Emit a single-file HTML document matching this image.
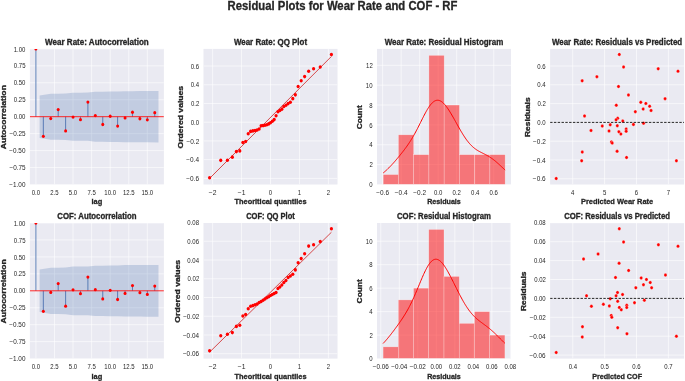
<!DOCTYPE html>
<html><head><meta charset="utf-8"><title>Residual Plots</title>
<style>html,body{margin:0;padding:0;background:#fff;}svg{display:block;filter:blur(0.3px);}</style>
</head><body>
<svg width="685" height="381" viewBox="0 0 685 381" font-family='"Liberation Sans", sans-serif'>
<rect width="685" height="381" fill="#ffffff"/>
<text x="342.50" y="9.55" font-size="11.96" font-weight="bold" text-anchor="middle" textLength="229.87" lengthAdjust="spacingAndGlyphs" fill="#262626" stroke="#262626" stroke-width="0.3">Residual Plots for Wear Rate and COF - RF</text>
<rect x="29.90" y="48.90" width="134.00" height="135.60" fill="#eaeaf2"/>
<clipPath id="c00"><rect x="29.90" y="48.90" width="134.00" height="135.60"/></clipPath>
<g clip-path="url(#c00)">
<line x1="35.90" y1="48.90" x2="35.90" y2="184.50" stroke="#ffffff" stroke-width="0.6"/>
<line x1="54.47" y1="48.90" x2="54.47" y2="184.50" stroke="#ffffff" stroke-width="0.6"/>
<line x1="73.04" y1="48.90" x2="73.04" y2="184.50" stroke="#ffffff" stroke-width="0.6"/>
<line x1="91.62" y1="48.90" x2="91.62" y2="184.50" stroke="#ffffff" stroke-width="0.6"/>
<line x1="110.19" y1="48.90" x2="110.19" y2="184.50" stroke="#ffffff" stroke-width="0.6"/>
<line x1="128.76" y1="48.90" x2="128.76" y2="184.50" stroke="#ffffff" stroke-width="0.6"/>
<line x1="147.33" y1="48.90" x2="147.33" y2="184.50" stroke="#ffffff" stroke-width="0.6"/>
<line x1="29.90" y1="184.50" x2="163.90" y2="184.50" stroke="#ffffff" stroke-width="0.6"/>
<line x1="29.90" y1="167.55" x2="163.90" y2="167.55" stroke="#ffffff" stroke-width="0.6"/>
<line x1="29.90" y1="150.60" x2="163.90" y2="150.60" stroke="#ffffff" stroke-width="0.6"/>
<line x1="29.90" y1="133.65" x2="163.90" y2="133.65" stroke="#ffffff" stroke-width="0.6"/>
<line x1="29.90" y1="116.70" x2="163.90" y2="116.70" stroke="#ffffff" stroke-width="0.6"/>
<line x1="29.90" y1="99.75" x2="163.90" y2="99.75" stroke="#ffffff" stroke-width="0.6"/>
<line x1="29.90" y1="82.80" x2="163.90" y2="82.80" stroke="#ffffff" stroke-width="0.6"/>
<line x1="29.90" y1="65.85" x2="163.90" y2="65.85" stroke="#ffffff" stroke-width="0.6"/>
<line x1="29.90" y1="48.90" x2="163.90" y2="48.90" stroke="#ffffff" stroke-width="0.6"/>
<path d="M39.61,95.42 L50.76,93.71 L58.19,93.70 L65.61,93.48 L73.04,92.64 L80.47,92.64 L87.90,92.60 L95.33,91.75 L102.76,91.74 L110.19,91.50 L117.62,91.50 L125.05,91.16 L132.48,91.15 L139.90,91.08 L147.33,91.06 L158.48,91.02 L158.48,142.38 L147.33,142.34 L139.90,142.32 L132.48,142.25 L125.05,142.24 L117.62,141.90 L110.19,141.90 L102.76,141.66 L95.33,141.65 L87.90,140.80 L80.47,140.76 L73.04,140.76 L65.61,139.92 L58.19,139.70 L50.76,139.69 L39.61,137.98 Z" fill="#4c72b0" fill-opacity="0.25"/>
<line x1="35.90" y1="116.70" x2="35.90" y2="48.90" stroke="#4c72b0" stroke-width="0.9"/>
<line x1="43.33" y1="116.70" x2="43.33" y2="136.29" stroke="#4c72b0" stroke-width="0.9"/>
<line x1="50.76" y1="116.70" x2="50.76" y2="118.53" stroke="#4c72b0" stroke-width="0.9"/>
<line x1="58.19" y1="116.70" x2="58.19" y2="109.58" stroke="#4c72b0" stroke-width="0.9"/>
<line x1="65.61" y1="116.70" x2="65.61" y2="130.94" stroke="#4c72b0" stroke-width="0.9"/>
<line x1="73.04" y1="116.70" x2="73.04" y2="117.11" stroke="#4c72b0" stroke-width="0.9"/>
<line x1="80.47" y1="116.70" x2="80.47" y2="119.68" stroke="#4c72b0" stroke-width="0.9"/>
<line x1="87.90" y1="116.70" x2="87.90" y2="102.12" stroke="#4c72b0" stroke-width="0.9"/>
<line x1="95.33" y1="116.70" x2="95.33" y2="115.62" stroke="#4c72b0" stroke-width="0.9"/>
<line x1="102.76" y1="116.70" x2="102.76" y2="124.50" stroke="#4c72b0" stroke-width="0.9"/>
<line x1="110.19" y1="116.70" x2="110.19" y2="116.23" stroke="#4c72b0" stroke-width="0.9"/>
<line x1="117.62" y1="116.70" x2="117.62" y2="126.12" stroke="#4c72b0" stroke-width="0.9"/>
<line x1="125.05" y1="116.70" x2="125.05" y2="117.92" stroke="#4c72b0" stroke-width="0.9"/>
<line x1="132.48" y1="116.70" x2="132.48" y2="112.23" stroke="#4c72b0" stroke-width="0.9"/>
<line x1="139.90" y1="116.70" x2="139.90" y2="118.73" stroke="#4c72b0" stroke-width="0.9"/>
<line x1="147.33" y1="116.70" x2="147.33" y2="119.82" stroke="#4c72b0" stroke-width="0.9"/>
<line x1="154.76" y1="116.70" x2="154.76" y2="112.70" stroke="#4c72b0" stroke-width="0.9"/>
<line x1="29.90" y1="116.70" x2="163.90" y2="116.70" stroke="#ff0000" stroke-width="0.85"/>
<ellipse cx="35.90" cy="48.90" rx="1.5" ry="1.65" fill="#ff0000"/>
<ellipse cx="43.33" cy="136.29" rx="1.5" ry="1.65" fill="#ff0000"/>
<ellipse cx="50.76" cy="118.53" rx="1.5" ry="1.65" fill="#ff0000"/>
<ellipse cx="58.19" cy="109.58" rx="1.5" ry="1.65" fill="#ff0000"/>
<ellipse cx="65.61" cy="130.94" rx="1.5" ry="1.65" fill="#ff0000"/>
<ellipse cx="73.04" cy="117.11" rx="1.5" ry="1.65" fill="#ff0000"/>
<ellipse cx="80.47" cy="119.68" rx="1.5" ry="1.65" fill="#ff0000"/>
<ellipse cx="87.90" cy="102.12" rx="1.5" ry="1.65" fill="#ff0000"/>
<ellipse cx="95.33" cy="115.62" rx="1.5" ry="1.65" fill="#ff0000"/>
<ellipse cx="102.76" cy="124.50" rx="1.5" ry="1.65" fill="#ff0000"/>
<ellipse cx="110.19" cy="116.23" rx="1.5" ry="1.65" fill="#ff0000"/>
<ellipse cx="117.62" cy="126.12" rx="1.5" ry="1.65" fill="#ff0000"/>
<ellipse cx="125.05" cy="117.92" rx="1.5" ry="1.65" fill="#ff0000"/>
<ellipse cx="132.48" cy="112.23" rx="1.5" ry="1.65" fill="#ff0000"/>
<ellipse cx="139.90" cy="118.73" rx="1.5" ry="1.65" fill="#ff0000"/>
<ellipse cx="147.33" cy="119.82" rx="1.5" ry="1.65" fill="#ff0000"/>
<ellipse cx="154.76" cy="112.70" rx="1.5" ry="1.65" fill="#ff0000"/>
</g>
<text x="35.90" y="195.10" font-size="6.45" font-weight="normal" text-anchor="middle" textLength="8.35" lengthAdjust="spacingAndGlyphs" fill="#262626">0.0</text>
<text x="54.47" y="195.10" font-size="6.45" font-weight="normal" text-anchor="middle" textLength="8.35" lengthAdjust="spacingAndGlyphs" fill="#262626">2.5</text>
<text x="73.04" y="195.10" font-size="6.45" font-weight="normal" text-anchor="middle" textLength="8.35" lengthAdjust="spacingAndGlyphs" fill="#262626">5.0</text>
<text x="91.62" y="195.10" font-size="6.45" font-weight="normal" text-anchor="middle" textLength="8.35" lengthAdjust="spacingAndGlyphs" fill="#262626">7.5</text>
<text x="110.19" y="195.10" font-size="6.45" font-weight="normal" text-anchor="middle" textLength="11.69" lengthAdjust="spacingAndGlyphs" fill="#262626">10.0</text>
<text x="128.76" y="195.10" font-size="6.45" font-weight="normal" text-anchor="middle" textLength="11.69" lengthAdjust="spacingAndGlyphs" fill="#262626">12.5</text>
<text x="147.33" y="195.10" font-size="6.45" font-weight="normal" text-anchor="middle" textLength="11.69" lengthAdjust="spacingAndGlyphs" fill="#262626">15.0</text>
<text x="25.44" y="187.12" font-size="6.45" font-weight="normal" text-anchor="end" textLength="16.09" lengthAdjust="spacingAndGlyphs" fill="#262626">−1.00</text>
<text x="25.54" y="170.17" font-size="6.45" font-weight="normal" text-anchor="end" textLength="16.09" lengthAdjust="spacingAndGlyphs" fill="#262626">−0.75</text>
<text x="25.44" y="153.22" font-size="6.45" font-weight="normal" text-anchor="end" textLength="16.09" lengthAdjust="spacingAndGlyphs" fill="#262626">−0.50</text>
<text x="25.54" y="136.27" font-size="6.45" font-weight="normal" text-anchor="end" textLength="16.09" lengthAdjust="spacingAndGlyphs" fill="#262626">−0.25</text>
<text x="25.45" y="119.32" font-size="6.45" font-weight="normal" text-anchor="end" textLength="11.69" lengthAdjust="spacingAndGlyphs" fill="#262626">0.00</text>
<text x="25.55" y="102.37" font-size="6.45" font-weight="normal" text-anchor="end" textLength="11.69" lengthAdjust="spacingAndGlyphs" fill="#262626">0.25</text>
<text x="25.45" y="85.42" font-size="6.45" font-weight="normal" text-anchor="end" textLength="11.69" lengthAdjust="spacingAndGlyphs" fill="#262626">0.50</text>
<text x="25.55" y="68.47" font-size="6.45" font-weight="normal" text-anchor="end" textLength="11.69" lengthAdjust="spacingAndGlyphs" fill="#262626">0.75</text>
<text x="25.45" y="51.52" font-size="6.45" font-weight="normal" text-anchor="end" textLength="11.69" lengthAdjust="spacingAndGlyphs" fill="#262626">1.00</text>
<text x="96.90" y="45.20" font-size="8.15" font-weight="bold" text-anchor="middle" textLength="103.63" lengthAdjust="spacingAndGlyphs" fill="#262626" stroke="#262626" stroke-width="0.3">Wear Rate: Autocorrelation</text>
<text x="96.90" y="204.40" font-size="7.69" font-weight="bold" text-anchor="middle" textLength="10.75" lengthAdjust="spacingAndGlyphs" fill="#262626" stroke="#262626" stroke-width="0.3">lag</text>
<text transform="translate(6.00,117.20) rotate(-90)" x="0" y="0" font-size="6.60" font-weight="bold" text-anchor="middle" textLength="64.22" lengthAdjust="spacingAndGlyphs" fill="#262626" stroke="#262626" stroke-width="0.3">Autocorrelation</text>
<rect x="29.90" y="223.00" width="134.00" height="135.60" fill="#eaeaf2"/>
<clipPath id="c10"><rect x="29.90" y="223.00" width="134.00" height="135.60"/></clipPath>
<g clip-path="url(#c10)">
<line x1="35.90" y1="223.00" x2="35.90" y2="358.60" stroke="#ffffff" stroke-width="0.6"/>
<line x1="54.47" y1="223.00" x2="54.47" y2="358.60" stroke="#ffffff" stroke-width="0.6"/>
<line x1="73.04" y1="223.00" x2="73.04" y2="358.60" stroke="#ffffff" stroke-width="0.6"/>
<line x1="91.62" y1="223.00" x2="91.62" y2="358.60" stroke="#ffffff" stroke-width="0.6"/>
<line x1="110.19" y1="223.00" x2="110.19" y2="358.60" stroke="#ffffff" stroke-width="0.6"/>
<line x1="128.76" y1="223.00" x2="128.76" y2="358.60" stroke="#ffffff" stroke-width="0.6"/>
<line x1="147.33" y1="223.00" x2="147.33" y2="358.60" stroke="#ffffff" stroke-width="0.6"/>
<line x1="29.90" y1="358.60" x2="163.90" y2="358.60" stroke="#ffffff" stroke-width="0.6"/>
<line x1="29.90" y1="341.65" x2="163.90" y2="341.65" stroke="#ffffff" stroke-width="0.6"/>
<line x1="29.90" y1="324.70" x2="163.90" y2="324.70" stroke="#ffffff" stroke-width="0.6"/>
<line x1="29.90" y1="307.75" x2="163.90" y2="307.75" stroke="#ffffff" stroke-width="0.6"/>
<line x1="29.90" y1="290.80" x2="163.90" y2="290.80" stroke="#ffffff" stroke-width="0.6"/>
<line x1="29.90" y1="273.85" x2="163.90" y2="273.85" stroke="#ffffff" stroke-width="0.6"/>
<line x1="29.90" y1="256.90" x2="163.90" y2="256.90" stroke="#ffffff" stroke-width="0.6"/>
<line x1="29.90" y1="239.95" x2="163.90" y2="239.95" stroke="#ffffff" stroke-width="0.6"/>
<line x1="29.90" y1="223.00" x2="163.90" y2="223.00" stroke="#ffffff" stroke-width="0.6"/>
<path d="M39.61,269.52 L50.76,267.66 L58.19,267.65 L65.61,267.43 L73.04,266.45 L80.47,266.45 L87.90,266.41 L95.33,265.66 L102.76,265.65 L110.19,265.40 L117.62,265.40 L125.05,265.11 L132.48,265.08 L139.90,264.98 L147.33,264.96 L158.48,264.91 L158.48,316.69 L147.33,316.64 L139.90,316.62 L132.48,316.52 L125.05,316.49 L117.62,316.20 L110.19,316.20 L102.76,315.95 L95.33,315.94 L87.90,315.19 L80.47,315.15 L73.04,315.15 L65.61,314.17 L58.19,313.95 L50.76,313.94 L39.61,312.08 Z" fill="#4c72b0" fill-opacity="0.25"/>
<line x1="35.90" y1="290.80" x2="35.90" y2="223.00" stroke="#4c72b0" stroke-width="0.9"/>
<line x1="43.33" y1="290.80" x2="43.33" y2="311.28" stroke="#4c72b0" stroke-width="0.9"/>
<line x1="50.76" y1="290.80" x2="50.76" y2="292.43" stroke="#4c72b0" stroke-width="0.9"/>
<line x1="58.19" y1="290.80" x2="58.19" y2="283.55" stroke="#4c72b0" stroke-width="0.9"/>
<line x1="65.61" y1="290.80" x2="65.61" y2="306.19" stroke="#4c72b0" stroke-width="0.9"/>
<line x1="73.04" y1="290.80" x2="73.04" y2="289.85" stroke="#4c72b0" stroke-width="0.9"/>
<line x1="80.47" y1="290.80" x2="80.47" y2="293.65" stroke="#4c72b0" stroke-width="0.9"/>
<line x1="87.90" y1="290.80" x2="87.90" y2="277.04" stroke="#4c72b0" stroke-width="0.9"/>
<line x1="95.33" y1="290.80" x2="95.33" y2="289.65" stroke="#4c72b0" stroke-width="0.9"/>
<line x1="102.76" y1="290.80" x2="102.76" y2="298.94" stroke="#4c72b0" stroke-width="0.9"/>
<line x1="110.19" y1="290.80" x2="110.19" y2="290.33" stroke="#4c72b0" stroke-width="0.9"/>
<line x1="117.62" y1="290.80" x2="117.62" y2="299.48" stroke="#4c72b0" stroke-width="0.9"/>
<line x1="125.05" y1="290.80" x2="125.05" y2="293.38" stroke="#4c72b0" stroke-width="0.9"/>
<line x1="132.48" y1="290.80" x2="132.48" y2="285.58" stroke="#4c72b0" stroke-width="0.9"/>
<line x1="139.90" y1="290.80" x2="139.90" y2="292.63" stroke="#4c72b0" stroke-width="0.9"/>
<line x1="147.33" y1="290.80" x2="147.33" y2="294.46" stroke="#4c72b0" stroke-width="0.9"/>
<line x1="154.76" y1="290.80" x2="154.76" y2="286.05" stroke="#4c72b0" stroke-width="0.9"/>
<line x1="29.90" y1="290.80" x2="163.90" y2="290.80" stroke="#ff0000" stroke-width="0.85"/>
<ellipse cx="35.90" cy="223.00" rx="1.5" ry="1.65" fill="#ff0000"/>
<ellipse cx="43.33" cy="311.28" rx="1.5" ry="1.65" fill="#ff0000"/>
<ellipse cx="50.76" cy="292.43" rx="1.5" ry="1.65" fill="#ff0000"/>
<ellipse cx="58.19" cy="283.55" rx="1.5" ry="1.65" fill="#ff0000"/>
<ellipse cx="65.61" cy="306.19" rx="1.5" ry="1.65" fill="#ff0000"/>
<ellipse cx="73.04" cy="289.85" rx="1.5" ry="1.65" fill="#ff0000"/>
<ellipse cx="80.47" cy="293.65" rx="1.5" ry="1.65" fill="#ff0000"/>
<ellipse cx="87.90" cy="277.04" rx="1.5" ry="1.65" fill="#ff0000"/>
<ellipse cx="95.33" cy="289.65" rx="1.5" ry="1.65" fill="#ff0000"/>
<ellipse cx="102.76" cy="298.94" rx="1.5" ry="1.65" fill="#ff0000"/>
<ellipse cx="110.19" cy="290.33" rx="1.5" ry="1.65" fill="#ff0000"/>
<ellipse cx="117.62" cy="299.48" rx="1.5" ry="1.65" fill="#ff0000"/>
<ellipse cx="125.05" cy="293.38" rx="1.5" ry="1.65" fill="#ff0000"/>
<ellipse cx="132.48" cy="285.58" rx="1.5" ry="1.65" fill="#ff0000"/>
<ellipse cx="139.90" cy="292.63" rx="1.5" ry="1.65" fill="#ff0000"/>
<ellipse cx="147.33" cy="294.46" rx="1.5" ry="1.65" fill="#ff0000"/>
<ellipse cx="154.76" cy="286.05" rx="1.5" ry="1.65" fill="#ff0000"/>
</g>
<text x="35.90" y="369.20" font-size="6.45" font-weight="normal" text-anchor="middle" textLength="8.35" lengthAdjust="spacingAndGlyphs" fill="#262626">0.0</text>
<text x="54.47" y="369.20" font-size="6.45" font-weight="normal" text-anchor="middle" textLength="8.35" lengthAdjust="spacingAndGlyphs" fill="#262626">2.5</text>
<text x="73.04" y="369.20" font-size="6.45" font-weight="normal" text-anchor="middle" textLength="8.35" lengthAdjust="spacingAndGlyphs" fill="#262626">5.0</text>
<text x="91.62" y="369.20" font-size="6.45" font-weight="normal" text-anchor="middle" textLength="8.35" lengthAdjust="spacingAndGlyphs" fill="#262626">7.5</text>
<text x="110.19" y="369.20" font-size="6.45" font-weight="normal" text-anchor="middle" textLength="11.69" lengthAdjust="spacingAndGlyphs" fill="#262626">10.0</text>
<text x="128.76" y="369.20" font-size="6.45" font-weight="normal" text-anchor="middle" textLength="11.69" lengthAdjust="spacingAndGlyphs" fill="#262626">12.5</text>
<text x="147.33" y="369.20" font-size="6.45" font-weight="normal" text-anchor="middle" textLength="11.69" lengthAdjust="spacingAndGlyphs" fill="#262626">15.0</text>
<text x="25.44" y="361.22" font-size="6.45" font-weight="normal" text-anchor="end" textLength="16.09" lengthAdjust="spacingAndGlyphs" fill="#262626">−1.00</text>
<text x="25.54" y="344.27" font-size="6.45" font-weight="normal" text-anchor="end" textLength="16.09" lengthAdjust="spacingAndGlyphs" fill="#262626">−0.75</text>
<text x="25.44" y="327.32" font-size="6.45" font-weight="normal" text-anchor="end" textLength="16.09" lengthAdjust="spacingAndGlyphs" fill="#262626">−0.50</text>
<text x="25.54" y="310.37" font-size="6.45" font-weight="normal" text-anchor="end" textLength="16.09" lengthAdjust="spacingAndGlyphs" fill="#262626">−0.25</text>
<text x="25.45" y="293.42" font-size="6.45" font-weight="normal" text-anchor="end" textLength="11.69" lengthAdjust="spacingAndGlyphs" fill="#262626">0.00</text>
<text x="25.55" y="276.47" font-size="6.45" font-weight="normal" text-anchor="end" textLength="11.69" lengthAdjust="spacingAndGlyphs" fill="#262626">0.25</text>
<text x="25.45" y="259.52" font-size="6.45" font-weight="normal" text-anchor="end" textLength="11.69" lengthAdjust="spacingAndGlyphs" fill="#262626">0.50</text>
<text x="25.55" y="242.57" font-size="6.45" font-weight="normal" text-anchor="end" textLength="11.69" lengthAdjust="spacingAndGlyphs" fill="#262626">0.75</text>
<text x="25.45" y="225.62" font-size="6.45" font-weight="normal" text-anchor="end" textLength="11.69" lengthAdjust="spacingAndGlyphs" fill="#262626">1.00</text>
<text x="96.90" y="219.30" font-size="8.15" font-weight="bold" text-anchor="middle" textLength="79.13" lengthAdjust="spacingAndGlyphs" fill="#262626" stroke="#262626" stroke-width="0.3">COF: Autocorrelation</text>
<text x="96.90" y="378.50" font-size="7.69" font-weight="bold" text-anchor="middle" textLength="10.75" lengthAdjust="spacingAndGlyphs" fill="#262626" stroke="#262626" stroke-width="0.3">lag</text>
<text transform="translate(6.00,291.30) rotate(-90)" x="0" y="0" font-size="6.60" font-weight="bold" text-anchor="middle" textLength="64.22" lengthAdjust="spacingAndGlyphs" fill="#262626" stroke="#262626" stroke-width="0.3">Autocorrelation</text>
<rect x="203.50" y="48.90" width="134.00" height="135.60" fill="#eaeaf2"/>
<clipPath id="c01"><rect x="203.50" y="48.90" width="134.00" height="135.60"/></clipPath>
<g clip-path="url(#c01)">
<line x1="212.65" y1="48.90" x2="212.65" y2="184.50" stroke="#ffffff" stroke-width="0.6"/>
<line x1="241.57" y1="48.90" x2="241.57" y2="184.50" stroke="#ffffff" stroke-width="0.6"/>
<line x1="270.50" y1="48.90" x2="270.50" y2="184.50" stroke="#ffffff" stroke-width="0.6"/>
<line x1="299.43" y1="48.90" x2="299.43" y2="184.50" stroke="#ffffff" stroke-width="0.6"/>
<line x1="328.35" y1="48.90" x2="328.35" y2="184.50" stroke="#ffffff" stroke-width="0.6"/>
<line x1="203.50" y1="178.36" x2="337.50" y2="178.36" stroke="#ffffff" stroke-width="0.6"/>
<line x1="203.50" y1="159.64" x2="337.50" y2="159.64" stroke="#ffffff" stroke-width="0.6"/>
<line x1="203.50" y1="140.92" x2="337.50" y2="140.92" stroke="#ffffff" stroke-width="0.6"/>
<line x1="203.50" y1="122.20" x2="337.50" y2="122.20" stroke="#ffffff" stroke-width="0.6"/>
<line x1="203.50" y1="103.48" x2="337.50" y2="103.48" stroke="#ffffff" stroke-width="0.6"/>
<line x1="203.50" y1="84.76" x2="337.50" y2="84.76" stroke="#ffffff" stroke-width="0.6"/>
<line x1="203.50" y1="66.04" x2="337.50" y2="66.04" stroke="#ffffff" stroke-width="0.6"/>
<line x1="209.59" y1="178.42" x2="331.41" y2="56.45" stroke="#d02020" stroke-width="0.8"/>
<ellipse cx="209.59" cy="177.81" rx="1.6" ry="1.8" fill="#ff0000"/>
<ellipse cx="220.76" cy="160.34" rx="1.6" ry="1.8" fill="#ff0000"/>
<ellipse cx="227.41" cy="160.19" rx="1.6" ry="1.8" fill="#ff0000"/>
<ellipse cx="232.34" cy="157.15" rx="1.6" ry="1.8" fill="#ff0000"/>
<ellipse cx="236.36" cy="151.62" rx="1.6" ry="1.8" fill="#ff0000"/>
<ellipse cx="239.81" cy="150.88" rx="1.6" ry="1.8" fill="#ff0000"/>
<ellipse cx="242.87" cy="142.56" rx="1.6" ry="1.8" fill="#ff0000"/>
<ellipse cx="245.65" cy="141.57" rx="1.6" ry="1.8" fill="#ff0000"/>
<ellipse cx="248.22" cy="133.75" rx="1.6" ry="1.8" fill="#ff0000"/>
<ellipse cx="250.62" cy="131.41" rx="1.6" ry="1.8" fill="#ff0000"/>
<ellipse cx="252.89" cy="130.91" rx="1.6" ry="1.8" fill="#ff0000"/>
<ellipse cx="255.06" cy="130.46" rx="1.6" ry="1.8" fill="#ff0000"/>
<ellipse cx="257.15" cy="130.02" rx="1.6" ry="1.8" fill="#ff0000"/>
<ellipse cx="259.16" cy="129.07" rx="1.6" ry="1.8" fill="#ff0000"/>
<ellipse cx="261.13" cy="125.69" rx="1.6" ry="1.8" fill="#ff0000"/>
<ellipse cx="263.05" cy="125.59" rx="1.6" ry="1.8" fill="#ff0000"/>
<ellipse cx="264.94" cy="125.19" rx="1.6" ry="1.8" fill="#ff0000"/>
<ellipse cx="266.81" cy="124.69" rx="1.6" ry="1.8" fill="#ff0000"/>
<ellipse cx="268.66" cy="123.89" rx="1.6" ry="1.8" fill="#ff0000"/>
<ellipse cx="270.50" cy="122.80" rx="1.6" ry="1.8" fill="#ff0000"/>
<ellipse cx="272.34" cy="121.20" rx="1.6" ry="1.8" fill="#ff0000"/>
<ellipse cx="274.19" cy="119.61" rx="1.6" ry="1.8" fill="#ff0000"/>
<ellipse cx="276.06" cy="115.73" rx="1.6" ry="1.8" fill="#ff0000"/>
<ellipse cx="277.95" cy="111.69" rx="1.6" ry="1.8" fill="#ff0000"/>
<ellipse cx="279.87" cy="110.50" rx="1.6" ry="1.8" fill="#ff0000"/>
<ellipse cx="281.84" cy="109.16" rx="1.6" ry="1.8" fill="#ff0000"/>
<ellipse cx="283.85" cy="106.47" rx="1.6" ry="1.8" fill="#ff0000"/>
<ellipse cx="285.94" cy="105.22" rx="1.6" ry="1.8" fill="#ff0000"/>
<ellipse cx="288.11" cy="103.58" rx="1.6" ry="1.8" fill="#ff0000"/>
<ellipse cx="290.38" cy="102.29" rx="1.6" ry="1.8" fill="#ff0000"/>
<ellipse cx="292.78" cy="98.65" rx="1.6" ry="1.8" fill="#ff0000"/>
<ellipse cx="295.35" cy="94.87" rx="1.6" ry="1.8" fill="#ff0000"/>
<ellipse cx="298.13" cy="86.50" rx="1.6" ry="1.8" fill="#ff0000"/>
<ellipse cx="301.19" cy="80.73" rx="1.6" ry="1.8" fill="#ff0000"/>
<ellipse cx="304.64" cy="76.59" rx="1.6" ry="1.8" fill="#ff0000"/>
<ellipse cx="308.66" cy="71.27" rx="1.6" ry="1.8" fill="#ff0000"/>
<ellipse cx="313.59" cy="68.73" rx="1.6" ry="1.8" fill="#ff0000"/>
<ellipse cx="320.24" cy="67.04" rx="1.6" ry="1.8" fill="#ff0000"/>
<ellipse cx="331.41" cy="54.54" rx="1.6" ry="1.8" fill="#ff0000"/>
</g>
<text x="212.65" y="195.10" font-size="6.45" font-weight="normal" text-anchor="middle" textLength="7.74" lengthAdjust="spacingAndGlyphs" fill="#262626">−2</text>
<text x="241.57" y="195.10" font-size="6.45" font-weight="normal" text-anchor="middle" textLength="7.74" lengthAdjust="spacingAndGlyphs" fill="#262626">−1</text>
<text x="270.50" y="195.10" font-size="6.45" font-weight="normal" text-anchor="middle" textLength="3.34" lengthAdjust="spacingAndGlyphs" fill="#262626">0</text>
<text x="299.43" y="195.10" font-size="6.45" font-weight="normal" text-anchor="middle" textLength="3.34" lengthAdjust="spacingAndGlyphs" fill="#262626">1</text>
<text x="328.35" y="195.10" font-size="6.45" font-weight="normal" text-anchor="middle" textLength="3.34" lengthAdjust="spacingAndGlyphs" fill="#262626">2</text>
<text x="199.03" y="180.98" font-size="6.45" font-weight="normal" text-anchor="end" textLength="12.75" lengthAdjust="spacingAndGlyphs" fill="#262626">−0.6</text>
<text x="199.01" y="162.26" font-size="6.45" font-weight="normal" text-anchor="end" textLength="12.75" lengthAdjust="spacingAndGlyphs" fill="#262626">−0.4</text>
<text x="199.24" y="143.54" font-size="6.45" font-weight="normal" text-anchor="end" textLength="12.75" lengthAdjust="spacingAndGlyphs" fill="#262626">−0.2</text>
<text x="199.04" y="124.82" font-size="6.45" font-weight="normal" text-anchor="end" textLength="8.35" lengthAdjust="spacingAndGlyphs" fill="#262626">0.0</text>
<text x="199.23" y="106.10" font-size="6.45" font-weight="normal" text-anchor="end" textLength="8.35" lengthAdjust="spacingAndGlyphs" fill="#262626">0.2</text>
<text x="198.99" y="87.38" font-size="6.45" font-weight="normal" text-anchor="end" textLength="8.35" lengthAdjust="spacingAndGlyphs" fill="#262626">0.4</text>
<text x="199.02" y="68.66" font-size="6.45" font-weight="normal" text-anchor="end" textLength="8.35" lengthAdjust="spacingAndGlyphs" fill="#262626">0.6</text>
<text x="270.50" y="45.20" font-size="8.15" font-weight="bold" text-anchor="middle" textLength="73.14" lengthAdjust="spacingAndGlyphs" fill="#262626" stroke="#262626" stroke-width="0.3">Wear Rate: QQ Plot</text>
<text x="270.50" y="204.40" font-size="7.69" font-weight="bold" text-anchor="middle" textLength="72.08" lengthAdjust="spacingAndGlyphs" fill="#262626" stroke="#262626" stroke-width="0.3">Theoritical quantiles</text>
<text transform="translate(182.60,117.20) rotate(-90)" x="0" y="0" font-size="6.60" font-weight="bold" text-anchor="middle" textLength="62.72" lengthAdjust="spacingAndGlyphs" fill="#262626" stroke="#262626" stroke-width="0.3">Ordered values</text>
<rect x="203.50" y="223.00" width="134.00" height="135.60" fill="#eaeaf2"/>
<clipPath id="c11"><rect x="203.50" y="223.00" width="134.00" height="135.60"/></clipPath>
<g clip-path="url(#c11)">
<line x1="212.65" y1="223.00" x2="212.65" y2="358.60" stroke="#ffffff" stroke-width="0.6"/>
<line x1="241.57" y1="223.00" x2="241.57" y2="358.60" stroke="#ffffff" stroke-width="0.6"/>
<line x1="270.50" y1="223.00" x2="270.50" y2="358.60" stroke="#ffffff" stroke-width="0.6"/>
<line x1="299.43" y1="223.00" x2="299.43" y2="358.60" stroke="#ffffff" stroke-width="0.6"/>
<line x1="328.35" y1="223.00" x2="328.35" y2="358.60" stroke="#ffffff" stroke-width="0.6"/>
<line x1="203.50" y1="353.72" x2="337.50" y2="353.72" stroke="#ffffff" stroke-width="0.6"/>
<line x1="203.50" y1="334.98" x2="337.50" y2="334.98" stroke="#ffffff" stroke-width="0.6"/>
<line x1="203.50" y1="316.24" x2="337.50" y2="316.24" stroke="#ffffff" stroke-width="0.6"/>
<line x1="203.50" y1="297.50" x2="337.50" y2="297.50" stroke="#ffffff" stroke-width="0.6"/>
<line x1="203.50" y1="278.76" x2="337.50" y2="278.76" stroke="#ffffff" stroke-width="0.6"/>
<line x1="203.50" y1="260.02" x2="337.50" y2="260.02" stroke="#ffffff" stroke-width="0.6"/>
<line x1="203.50" y1="241.28" x2="337.50" y2="241.28" stroke="#ffffff" stroke-width="0.6"/>
<line x1="203.50" y1="222.54" x2="337.50" y2="222.54" stroke="#ffffff" stroke-width="0.6"/>
<line x1="209.59" y1="352.17" x2="331.41" y2="232.26" stroke="#d02020" stroke-width="0.8"/>
<ellipse cx="209.59" cy="350.80" rx="1.6" ry="1.8" fill="#ff0000"/>
<ellipse cx="220.76" cy="335.70" rx="1.6" ry="1.8" fill="#ff0000"/>
<ellipse cx="227.41" cy="334.30" rx="1.6" ry="1.8" fill="#ff0000"/>
<ellipse cx="232.34" cy="332.60" rx="1.6" ry="1.8" fill="#ff0000"/>
<ellipse cx="236.36" cy="326.40" rx="1.6" ry="1.8" fill="#ff0000"/>
<ellipse cx="239.81" cy="325.20" rx="1.6" ry="1.8" fill="#ff0000"/>
<ellipse cx="242.87" cy="316.00" rx="1.6" ry="1.8" fill="#ff0000"/>
<ellipse cx="245.65" cy="314.50" rx="1.6" ry="1.8" fill="#ff0000"/>
<ellipse cx="248.22" cy="308.70" rx="1.6" ry="1.8" fill="#ff0000"/>
<ellipse cx="250.62" cy="306.30" rx="1.6" ry="1.8" fill="#ff0000"/>
<ellipse cx="252.89" cy="305.60" rx="1.6" ry="1.8" fill="#ff0000"/>
<ellipse cx="255.06" cy="304.80" rx="1.6" ry="1.8" fill="#ff0000"/>
<ellipse cx="257.15" cy="304.00" rx="1.6" ry="1.8" fill="#ff0000"/>
<ellipse cx="259.16" cy="302.50" rx="1.6" ry="1.8" fill="#ff0000"/>
<ellipse cx="261.13" cy="301.50" rx="1.6" ry="1.8" fill="#ff0000"/>
<ellipse cx="263.05" cy="300.30" rx="1.6" ry="1.8" fill="#ff0000"/>
<ellipse cx="264.94" cy="299.00" rx="1.6" ry="1.8" fill="#ff0000"/>
<ellipse cx="266.81" cy="297.80" rx="1.6" ry="1.8" fill="#ff0000"/>
<ellipse cx="268.66" cy="296.80" rx="1.6" ry="1.8" fill="#ff0000"/>
<ellipse cx="270.50" cy="295.50" rx="1.6" ry="1.8" fill="#ff0000"/>
<ellipse cx="272.34" cy="294.50" rx="1.6" ry="1.8" fill="#ff0000"/>
<ellipse cx="274.19" cy="293.50" rx="1.6" ry="1.8" fill="#ff0000"/>
<ellipse cx="276.06" cy="292.50" rx="1.6" ry="1.8" fill="#ff0000"/>
<ellipse cx="277.95" cy="288.50" rx="1.6" ry="1.8" fill="#ff0000"/>
<ellipse cx="279.87" cy="287.00" rx="1.6" ry="1.8" fill="#ff0000"/>
<ellipse cx="281.84" cy="285.00" rx="1.6" ry="1.8" fill="#ff0000"/>
<ellipse cx="283.85" cy="282.50" rx="1.6" ry="1.8" fill="#ff0000"/>
<ellipse cx="285.94" cy="280.50" rx="1.6" ry="1.8" fill="#ff0000"/>
<ellipse cx="288.11" cy="277.50" rx="1.6" ry="1.8" fill="#ff0000"/>
<ellipse cx="290.38" cy="276.00" rx="1.6" ry="1.8" fill="#ff0000"/>
<ellipse cx="292.78" cy="274.30" rx="1.6" ry="1.8" fill="#ff0000"/>
<ellipse cx="295.35" cy="269.90" rx="1.6" ry="1.8" fill="#ff0000"/>
<ellipse cx="298.13" cy="262.70" rx="1.6" ry="1.8" fill="#ff0000"/>
<ellipse cx="301.19" cy="258.60" rx="1.6" ry="1.8" fill="#ff0000"/>
<ellipse cx="304.64" cy="253.80" rx="1.6" ry="1.8" fill="#ff0000"/>
<ellipse cx="308.66" cy="246.10" rx="1.6" ry="1.8" fill="#ff0000"/>
<ellipse cx="313.59" cy="244.70" rx="1.6" ry="1.8" fill="#ff0000"/>
<ellipse cx="320.24" cy="241.60" rx="1.6" ry="1.8" fill="#ff0000"/>
<ellipse cx="331.41" cy="228.80" rx="1.6" ry="1.8" fill="#ff0000"/>
</g>
<text x="212.65" y="369.20" font-size="6.45" font-weight="normal" text-anchor="middle" textLength="7.74" lengthAdjust="spacingAndGlyphs" fill="#262626">−2</text>
<text x="241.57" y="369.20" font-size="6.45" font-weight="normal" text-anchor="middle" textLength="7.74" lengthAdjust="spacingAndGlyphs" fill="#262626">−1</text>
<text x="270.50" y="369.20" font-size="6.45" font-weight="normal" text-anchor="middle" textLength="3.34" lengthAdjust="spacingAndGlyphs" fill="#262626">0</text>
<text x="299.43" y="369.20" font-size="6.45" font-weight="normal" text-anchor="middle" textLength="3.34" lengthAdjust="spacingAndGlyphs" fill="#262626">1</text>
<text x="328.35" y="369.20" font-size="6.45" font-weight="normal" text-anchor="middle" textLength="3.34" lengthAdjust="spacingAndGlyphs" fill="#262626">2</text>
<text x="199.01" y="356.34" font-size="6.45" font-weight="normal" text-anchor="end" textLength="16.09" lengthAdjust="spacingAndGlyphs" fill="#262626">−0.06</text>
<text x="198.99" y="337.60" font-size="6.45" font-weight="normal" text-anchor="end" textLength="16.09" lengthAdjust="spacingAndGlyphs" fill="#262626">−0.04</text>
<text x="199.22" y="318.86" font-size="6.45" font-weight="normal" text-anchor="end" textLength="16.09" lengthAdjust="spacingAndGlyphs" fill="#262626">−0.02</text>
<text x="199.05" y="300.12" font-size="6.45" font-weight="normal" text-anchor="end" textLength="11.69" lengthAdjust="spacingAndGlyphs" fill="#262626">0.00</text>
<text x="199.23" y="281.38" font-size="6.45" font-weight="normal" text-anchor="end" textLength="11.69" lengthAdjust="spacingAndGlyphs" fill="#262626">0.02</text>
<text x="199.00" y="262.64" font-size="6.45" font-weight="normal" text-anchor="end" textLength="11.69" lengthAdjust="spacingAndGlyphs" fill="#262626">0.04</text>
<text x="199.02" y="243.90" font-size="6.45" font-weight="normal" text-anchor="end" textLength="11.69" lengthAdjust="spacingAndGlyphs" fill="#262626">0.06</text>
<text x="199.05" y="225.16" font-size="6.45" font-weight="normal" text-anchor="end" textLength="11.69" lengthAdjust="spacingAndGlyphs" fill="#262626">0.08</text>
<text x="270.50" y="219.30" font-size="8.15" font-weight="bold" text-anchor="middle" textLength="48.64" lengthAdjust="spacingAndGlyphs" fill="#262626" stroke="#262626" stroke-width="0.3">COF: QQ Plot</text>
<text x="270.50" y="378.50" font-size="7.69" font-weight="bold" text-anchor="middle" textLength="72.08" lengthAdjust="spacingAndGlyphs" fill="#262626" stroke="#262626" stroke-width="0.3">Theoritical quantiles</text>
<text transform="translate(179.60,291.30) rotate(-90)" x="0" y="0" font-size="6.60" font-weight="bold" text-anchor="middle" textLength="62.72" lengthAdjust="spacingAndGlyphs" fill="#262626" stroke="#262626" stroke-width="0.3">Ordered values</text>
<rect x="377.00" y="48.90" width="134.00" height="135.60" fill="#eaeaf2"/>
<clipPath id="c02"><rect x="377.00" y="48.90" width="134.00" height="135.60"/></clipPath>
<g clip-path="url(#c02)">
<line x1="382.64" y1="48.90" x2="382.64" y2="184.50" stroke="#ffffff" stroke-width="0.6"/>
<line x1="401.16" y1="48.90" x2="401.16" y2="184.50" stroke="#ffffff" stroke-width="0.6"/>
<line x1="419.68" y1="48.90" x2="419.68" y2="184.50" stroke="#ffffff" stroke-width="0.6"/>
<line x1="438.20" y1="48.90" x2="438.20" y2="184.50" stroke="#ffffff" stroke-width="0.6"/>
<line x1="456.72" y1="48.90" x2="456.72" y2="184.50" stroke="#ffffff" stroke-width="0.6"/>
<line x1="475.24" y1="48.90" x2="475.24" y2="184.50" stroke="#ffffff" stroke-width="0.6"/>
<line x1="493.76" y1="48.90" x2="493.76" y2="184.50" stroke="#ffffff" stroke-width="0.6"/>
<line x1="377.00" y1="184.50" x2="511.00" y2="184.50" stroke="#ffffff" stroke-width="0.6"/>
<line x1="377.00" y1="164.63" x2="511.00" y2="164.63" stroke="#ffffff" stroke-width="0.6"/>
<line x1="377.00" y1="144.76" x2="511.00" y2="144.76" stroke="#ffffff" stroke-width="0.6"/>
<line x1="377.00" y1="124.90" x2="511.00" y2="124.90" stroke="#ffffff" stroke-width="0.6"/>
<line x1="377.00" y1="105.03" x2="511.00" y2="105.03" stroke="#ffffff" stroke-width="0.6"/>
<line x1="377.00" y1="85.16" x2="511.00" y2="85.16" stroke="#ffffff" stroke-width="0.6"/>
<line x1="377.00" y1="65.29" x2="511.00" y2="65.29" stroke="#ffffff" stroke-width="0.6"/>
<rect x="383.18" y="174.57" width="15.24" height="9.93" fill="#ff0000" fill-opacity="0.5" stroke="#ffffff" stroke-opacity="0.5" stroke-width="0.5"/>
<rect x="398.43" y="134.83" width="15.24" height="49.67" fill="#ff0000" fill-opacity="0.5" stroke="#ffffff" stroke-opacity="0.5" stroke-width="0.5"/>
<rect x="413.67" y="154.70" width="15.24" height="29.80" fill="#ff0000" fill-opacity="0.5" stroke="#ffffff" stroke-opacity="0.5" stroke-width="0.5"/>
<rect x="428.92" y="55.36" width="15.24" height="129.14" fill="#ff0000" fill-opacity="0.5" stroke="#ffffff" stroke-opacity="0.5" stroke-width="0.5"/>
<rect x="444.16" y="105.03" width="15.24" height="79.47" fill="#ff0000" fill-opacity="0.5" stroke="#ffffff" stroke-opacity="0.5" stroke-width="0.5"/>
<rect x="459.40" y="154.70" width="15.24" height="29.80" fill="#ff0000" fill-opacity="0.5" stroke="#ffffff" stroke-opacity="0.5" stroke-width="0.5"/>
<rect x="474.65" y="154.70" width="15.24" height="29.80" fill="#ff0000" fill-opacity="0.5" stroke="#ffffff" stroke-opacity="0.5" stroke-width="0.5"/>
<rect x="489.89" y="154.70" width="15.24" height="29.80" fill="#ff0000" fill-opacity="0.5" stroke="#ffffff" stroke-opacity="0.5" stroke-width="0.5"/>
<polyline points="383.18,172.97 383.79,172.47 384.41,171.95 385.02,171.42 385.63,170.88 386.25,170.33 386.86,169.76 387.47,169.19 388.08,168.59 388.70,167.99 389.31,167.38 389.92,166.75 390.54,166.12 391.15,165.47 391.76,164.81 392.37,164.15 392.99,163.47 393.60,162.79 394.21,162.10 394.83,161.40 395.44,160.69 396.05,159.98 396.66,159.26 397.28,158.53 397.89,157.80 398.50,157.07 399.12,156.32 399.73,155.57 400.34,154.81 400.95,154.05 401.57,153.28 402.18,152.51 402.79,151.72 403.41,150.93 404.02,150.13 404.63,149.31 405.24,148.49 405.86,147.66 406.47,146.81 407.08,145.95 407.70,145.07 408.31,144.18 408.92,143.27 409.53,142.35 410.15,141.40 410.76,140.44 411.37,139.45 411.99,138.45 412.60,137.42 413.21,136.37 413.82,135.31 414.44,134.22 415.05,133.11 415.66,131.98 416.28,130.83 416.89,129.67 417.50,128.49 418.11,127.29 418.73,126.08 419.34,124.86 419.95,123.64 420.57,122.41 421.18,121.18 421.79,119.95 422.40,118.72 423.02,117.50 423.63,116.30 424.24,115.11 424.86,113.94 425.47,112.80 426.08,111.69 426.69,110.60 427.31,109.56 427.92,108.55 428.53,107.58 429.15,106.67 429.76,105.80 430.37,104.99 430.98,104.23 431.60,103.54 432.21,102.91 432.82,102.34 433.44,101.83 434.05,101.40 434.66,101.03 435.27,100.73 435.89,100.50 436.50,100.34 437.11,100.25 437.73,100.24 438.34,100.29 438.95,100.41 439.56,100.59 440.18,100.84 440.79,101.16 441.40,101.53 442.01,101.97 442.63,102.46 443.24,103.01 443.85,103.61 444.47,104.26 445.08,104.96 445.69,105.70 446.30,106.49 446.92,107.31 447.53,108.17 448.14,109.07 448.76,109.99 449.37,110.95 449.98,111.93 450.59,112.93 451.21,113.95 451.82,115.00 452.43,116.05 453.05,117.12 453.66,118.20 454.27,119.29 454.88,120.39 455.50,121.49 456.11,122.59 456.72,123.70 457.34,124.79 457.95,125.89 458.56,126.98 459.17,128.06 459.79,129.13 460.40,130.19 461.01,131.24 461.63,132.27 462.24,133.28 462.85,134.27 463.46,135.25 464.08,136.20 464.69,137.13 465.30,138.03 465.92,138.91 466.53,139.77 467.14,140.60 467.75,141.39 468.37,142.16 468.98,142.91 469.59,143.62 470.21,144.30 470.82,144.96 471.43,145.58 472.04,146.18 472.66,146.75 473.27,147.29 473.88,147.81 474.50,148.30 475.11,148.77 475.72,149.21 476.33,149.64 476.95,150.04 477.56,150.43 478.17,150.80 478.79,151.15 479.40,151.49 480.01,151.83 480.62,152.15 481.24,152.46 481.85,152.77 482.46,153.08 483.08,153.38 483.69,153.69 484.30,154.00 484.91,154.31 485.53,154.62 486.14,154.95 486.75,155.28 487.37,155.62 487.98,155.97 488.59,156.33 489.20,156.70 489.82,157.09 490.43,157.48 491.04,157.89 491.66,158.32 492.27,158.76 492.88,159.21 493.49,159.67 494.11,160.15 494.72,160.64 495.33,161.14 495.95,161.65 496.56,162.18 497.17,162.71 497.78,163.25 498.40,163.80 499.01,164.36 499.62,164.92 500.24,165.49 500.85,166.06 501.46,166.63 502.07,167.20 502.69,167.78 503.30,168.35 503.91,168.92 504.53,169.49 505.14,170.05" fill="none" stroke="#ff0000" stroke-width="1.0"/>
</g>
<text x="382.64" y="195.10" font-size="6.45" font-weight="normal" text-anchor="middle" textLength="12.75" lengthAdjust="spacingAndGlyphs" fill="#262626">−0.6</text>
<text x="401.16" y="195.10" font-size="6.45" font-weight="normal" text-anchor="middle" textLength="12.75" lengthAdjust="spacingAndGlyphs" fill="#262626">−0.4</text>
<text x="419.68" y="195.10" font-size="6.45" font-weight="normal" text-anchor="middle" textLength="12.75" lengthAdjust="spacingAndGlyphs" fill="#262626">−0.2</text>
<text x="438.20" y="195.10" font-size="6.45" font-weight="normal" text-anchor="middle" textLength="8.35" lengthAdjust="spacingAndGlyphs" fill="#262626">0.0</text>
<text x="456.72" y="195.10" font-size="6.45" font-weight="normal" text-anchor="middle" textLength="8.35" lengthAdjust="spacingAndGlyphs" fill="#262626">0.2</text>
<text x="475.24" y="195.10" font-size="6.45" font-weight="normal" text-anchor="middle" textLength="8.35" lengthAdjust="spacingAndGlyphs" fill="#262626">0.4</text>
<text x="493.76" y="195.10" font-size="6.45" font-weight="normal" text-anchor="middle" textLength="8.35" lengthAdjust="spacingAndGlyphs" fill="#262626">0.6</text>
<text x="372.55" y="187.12" font-size="6.45" font-weight="normal" text-anchor="end" textLength="3.34" lengthAdjust="spacingAndGlyphs" fill="#262626">0</text>
<text x="372.73" y="167.26" font-size="6.45" font-weight="normal" text-anchor="end" textLength="3.34" lengthAdjust="spacingAndGlyphs" fill="#262626">2</text>
<text x="372.50" y="147.39" font-size="6.45" font-weight="normal" text-anchor="end" textLength="3.34" lengthAdjust="spacingAndGlyphs" fill="#262626">4</text>
<text x="372.52" y="127.52" font-size="6.45" font-weight="normal" text-anchor="end" textLength="3.34" lengthAdjust="spacingAndGlyphs" fill="#262626">6</text>
<text x="372.55" y="107.65" font-size="6.45" font-weight="normal" text-anchor="end" textLength="3.34" lengthAdjust="spacingAndGlyphs" fill="#262626">8</text>
<text x="372.55" y="87.78" font-size="6.45" font-weight="normal" text-anchor="end" textLength="6.68" lengthAdjust="spacingAndGlyphs" fill="#262626">10</text>
<text x="372.74" y="67.91" font-size="6.45" font-weight="normal" text-anchor="end" textLength="6.68" lengthAdjust="spacingAndGlyphs" fill="#262626">12</text>
<text x="444.00" y="45.20" font-size="8.15" font-weight="bold" text-anchor="middle" textLength="118.48" lengthAdjust="spacingAndGlyphs" fill="#262626" stroke="#262626" stroke-width="0.3">Wear Rate: Residual Histogram</text>
<text x="444.00" y="204.40" font-size="7.69" font-weight="bold" text-anchor="middle" textLength="33.65" lengthAdjust="spacingAndGlyphs" fill="#262626" stroke="#262626" stroke-width="0.3">Residuals</text>
<text transform="translate(361.70,117.20) rotate(-90)" x="0" y="0" font-size="6.60" font-weight="bold" text-anchor="middle" textLength="24.16" lengthAdjust="spacingAndGlyphs" fill="#262626" stroke="#262626" stroke-width="0.3">Count</text>
<rect x="377.00" y="223.00" width="134.00" height="135.60" fill="#eaeaf2"/>
<clipPath id="c12"><rect x="377.00" y="223.00" width="134.00" height="135.60"/></clipPath>
<g clip-path="url(#c12)">
<line x1="380.78" y1="223.00" x2="380.78" y2="358.60" stroke="#ffffff" stroke-width="0.6"/>
<line x1="399.29" y1="223.00" x2="399.29" y2="358.60" stroke="#ffffff" stroke-width="0.6"/>
<line x1="417.80" y1="223.00" x2="417.80" y2="358.60" stroke="#ffffff" stroke-width="0.6"/>
<line x1="436.32" y1="223.00" x2="436.32" y2="358.60" stroke="#ffffff" stroke-width="0.6"/>
<line x1="454.83" y1="223.00" x2="454.83" y2="358.60" stroke="#ffffff" stroke-width="0.6"/>
<line x1="473.34" y1="223.00" x2="473.34" y2="358.60" stroke="#ffffff" stroke-width="0.6"/>
<line x1="491.86" y1="223.00" x2="491.86" y2="358.60" stroke="#ffffff" stroke-width="0.6"/>
<line x1="510.37" y1="223.00" x2="510.37" y2="358.60" stroke="#ffffff" stroke-width="0.6"/>
<line x1="377.00" y1="358.60" x2="511.00" y2="358.60" stroke="#ffffff" stroke-width="0.6"/>
<line x1="377.00" y1="335.12" x2="511.00" y2="335.12" stroke="#ffffff" stroke-width="0.6"/>
<line x1="377.00" y1="311.64" x2="511.00" y2="311.64" stroke="#ffffff" stroke-width="0.6"/>
<line x1="377.00" y1="288.16" x2="511.00" y2="288.16" stroke="#ffffff" stroke-width="0.6"/>
<line x1="377.00" y1="264.68" x2="511.00" y2="264.68" stroke="#ffffff" stroke-width="0.6"/>
<line x1="377.00" y1="241.20" x2="511.00" y2="241.20" stroke="#ffffff" stroke-width="0.6"/>
<rect x="383.09" y="346.86" width="15.23" height="11.74" fill="#ff0000" fill-opacity="0.5" stroke="#ffffff" stroke-opacity="0.5" stroke-width="0.5"/>
<rect x="398.32" y="299.90" width="15.23" height="58.70" fill="#ff0000" fill-opacity="0.5" stroke="#ffffff" stroke-opacity="0.5" stroke-width="0.5"/>
<rect x="413.55" y="288.16" width="15.23" height="70.44" fill="#ff0000" fill-opacity="0.5" stroke="#ffffff" stroke-opacity="0.5" stroke-width="0.5"/>
<rect x="428.77" y="229.46" width="15.23" height="129.14" fill="#ff0000" fill-opacity="0.5" stroke="#ffffff" stroke-opacity="0.5" stroke-width="0.5"/>
<rect x="444.00" y="276.42" width="15.23" height="82.18" fill="#ff0000" fill-opacity="0.5" stroke="#ffffff" stroke-opacity="0.5" stroke-width="0.5"/>
<rect x="459.23" y="323.38" width="15.23" height="35.22" fill="#ff0000" fill-opacity="0.5" stroke="#ffffff" stroke-opacity="0.5" stroke-width="0.5"/>
<rect x="474.45" y="311.64" width="15.23" height="46.96" fill="#ff0000" fill-opacity="0.5" stroke="#ffffff" stroke-opacity="0.5" stroke-width="0.5"/>
<rect x="489.68" y="335.12" width="15.23" height="23.48" fill="#ff0000" fill-opacity="0.5" stroke="#ffffff" stroke-opacity="0.5" stroke-width="0.5"/>
<polyline points="383.09,343.48 383.70,342.84 384.32,342.18 384.93,341.50 385.54,340.81 386.15,340.11 386.76,339.40 387.38,338.68 387.99,337.94 388.60,337.20 389.21,336.45 389.82,335.68 390.44,334.91 391.05,334.13 391.66,333.34 392.27,332.55 392.89,331.75 393.50,330.94 394.11,330.13 394.72,329.31 395.33,328.48 395.95,327.65 396.56,326.81 397.17,325.97 397.78,325.12 398.39,324.26 399.01,323.39 399.62,322.52 400.23,321.64 400.84,320.75 401.46,319.85 402.07,318.93 402.68,318.00 403.29,317.06 403.90,316.10 404.52,315.12 405.13,314.13 405.74,313.12 406.35,312.08 406.96,311.02 407.58,309.94 408.19,308.83 408.80,307.70 409.41,306.54 410.03,305.36 410.64,304.14 411.25,302.90 411.86,301.63 412.47,300.34 413.09,299.02 413.70,297.67 414.31,296.30 414.92,294.90 415.53,293.49 416.15,292.06 416.76,290.61 417.37,289.15 417.98,287.68 418.60,286.20 419.21,284.72 419.82,283.24 420.43,281.77 421.04,280.31 421.66,278.86 422.27,277.43 422.88,276.03 423.49,274.65 424.11,273.31 424.72,272.00 425.33,270.74 425.94,269.53 426.55,268.36 427.17,267.26 427.78,266.21 428.39,265.22 429.00,264.30 429.61,263.45 430.23,262.68 430.84,261.98 431.45,261.35 432.06,260.81 432.68,260.34 433.29,259.95 433.90,259.65 434.51,259.42 435.12,259.28 435.74,259.22 436.35,259.24 436.96,259.33 437.57,259.51 438.18,259.76 438.80,260.08 439.41,260.47 440.02,260.93 440.63,261.46 441.25,262.04 441.86,262.69 442.47,263.40 443.08,264.16 443.69,264.97 444.31,265.83 444.92,266.73 445.53,267.68 446.14,268.66 446.75,269.68 447.37,270.73 447.98,271.81 448.59,272.91 449.20,274.04 449.82,275.19 450.43,276.36 451.04,277.55 451.65,278.75 452.26,279.96 452.88,281.18 453.49,282.40 454.10,283.63 454.71,284.86 455.32,286.09 455.94,287.32 456.55,288.55 457.16,289.77 457.77,290.99 458.39,292.19 459.00,293.39 459.61,294.57 460.22,295.74 460.83,296.90 461.45,298.03 462.06,299.15 462.67,300.25 463.28,301.33 463.89,302.39 464.51,303.43 465.12,304.44 465.73,305.43 466.34,306.39 466.96,307.32 467.57,308.23 468.18,309.12 468.79,309.97 469.40,310.80 470.02,311.60 470.63,312.38 471.24,313.12 471.85,313.85 472.47,314.54 473.08,315.21 473.69,315.86 474.30,316.48 474.91,317.09 475.53,317.67 476.14,318.23 476.75,318.77 477.36,319.30 477.97,319.81 478.59,320.31 479.20,320.80 479.81,321.27 480.42,321.74 481.04,322.20 481.65,322.66 482.26,323.11 482.87,323.55 483.48,324.00 484.10,324.45 484.71,324.90 485.32,325.35 485.93,325.81 486.54,326.27 487.16,326.74 487.77,327.22 488.38,327.70 488.99,328.19 489.61,328.69 490.22,329.20 490.83,329.72 491.44,330.25 492.05,330.79 492.67,331.33 493.28,331.89 493.89,332.45 494.50,333.03 495.11,333.61 495.73,334.20 496.34,334.79 496.95,335.39 497.56,336.00 498.18,336.61 498.79,337.22 499.40,337.84 500.01,338.45 500.62,339.07 501.24,339.68 501.85,340.30 502.46,340.91 503.07,341.52 503.68,342.13 504.30,342.73 504.91,343.32" fill="none" stroke="#ff0000" stroke-width="1.0"/>
</g>
<text x="380.78" y="369.20" font-size="6.45" font-weight="normal" text-anchor="middle" textLength="16.09" lengthAdjust="spacingAndGlyphs" fill="#262626">−0.06</text>
<text x="399.29" y="369.20" font-size="6.45" font-weight="normal" text-anchor="middle" textLength="16.09" lengthAdjust="spacingAndGlyphs" fill="#262626">−0.04</text>
<text x="417.80" y="369.20" font-size="6.45" font-weight="normal" text-anchor="middle" textLength="16.09" lengthAdjust="spacingAndGlyphs" fill="#262626">−0.02</text>
<text x="436.32" y="369.20" font-size="6.45" font-weight="normal" text-anchor="middle" textLength="11.69" lengthAdjust="spacingAndGlyphs" fill="#262626">0.00</text>
<text x="454.83" y="369.20" font-size="6.45" font-weight="normal" text-anchor="middle" textLength="11.69" lengthAdjust="spacingAndGlyphs" fill="#262626">0.02</text>
<text x="473.34" y="369.20" font-size="6.45" font-weight="normal" text-anchor="middle" textLength="11.69" lengthAdjust="spacingAndGlyphs" fill="#262626">0.04</text>
<text x="491.86" y="369.20" font-size="6.45" font-weight="normal" text-anchor="middle" textLength="11.69" lengthAdjust="spacingAndGlyphs" fill="#262626">0.06</text>
<text x="510.37" y="369.20" font-size="6.45" font-weight="normal" text-anchor="middle" textLength="11.69" lengthAdjust="spacingAndGlyphs" fill="#262626">0.08</text>
<text x="372.55" y="361.22" font-size="6.45" font-weight="normal" text-anchor="end" textLength="3.34" lengthAdjust="spacingAndGlyphs" fill="#262626">0</text>
<text x="372.73" y="337.74" font-size="6.45" font-weight="normal" text-anchor="end" textLength="3.34" lengthAdjust="spacingAndGlyphs" fill="#262626">2</text>
<text x="372.50" y="314.26" font-size="6.45" font-weight="normal" text-anchor="end" textLength="3.34" lengthAdjust="spacingAndGlyphs" fill="#262626">4</text>
<text x="372.52" y="290.78" font-size="6.45" font-weight="normal" text-anchor="end" textLength="3.34" lengthAdjust="spacingAndGlyphs" fill="#262626">6</text>
<text x="372.55" y="267.30" font-size="6.45" font-weight="normal" text-anchor="end" textLength="3.34" lengthAdjust="spacingAndGlyphs" fill="#262626">8</text>
<text x="372.55" y="243.82" font-size="6.45" font-weight="normal" text-anchor="end" textLength="6.68" lengthAdjust="spacingAndGlyphs" fill="#262626">10</text>
<text x="444.00" y="219.30" font-size="8.15" font-weight="bold" text-anchor="middle" textLength="93.98" lengthAdjust="spacingAndGlyphs" fill="#262626" stroke="#262626" stroke-width="0.3">COF: Residual Histogram</text>
<text x="444.00" y="378.50" font-size="7.69" font-weight="bold" text-anchor="middle" textLength="33.65" lengthAdjust="spacingAndGlyphs" fill="#262626" stroke="#262626" stroke-width="0.3">Residuals</text>
<text transform="translate(361.70,291.30) rotate(-90)" x="0" y="0" font-size="6.60" font-weight="bold" text-anchor="middle" textLength="24.16" lengthAdjust="spacingAndGlyphs" fill="#262626" stroke="#262626" stroke-width="0.3">Count</text>
<rect x="550.10" y="48.90" width="134.00" height="135.60" fill="#eaeaf2"/>
<clipPath id="c03"><rect x="550.10" y="48.90" width="134.00" height="135.60"/></clipPath>
<g clip-path="url(#c03)">
<line x1="572.71" y1="48.90" x2="572.71" y2="184.50" stroke="#ffffff" stroke-width="0.6"/>
<line x1="604.59" y1="48.90" x2="604.59" y2="184.50" stroke="#ffffff" stroke-width="0.6"/>
<line x1="636.47" y1="48.90" x2="636.47" y2="184.50" stroke="#ffffff" stroke-width="0.6"/>
<line x1="668.35" y1="48.90" x2="668.35" y2="184.50" stroke="#ffffff" stroke-width="0.6"/>
<line x1="550.10" y1="178.80" x2="684.10" y2="178.80" stroke="#ffffff" stroke-width="0.6"/>
<line x1="550.10" y1="160.00" x2="684.10" y2="160.00" stroke="#ffffff" stroke-width="0.6"/>
<line x1="550.10" y1="141.20" x2="684.10" y2="141.20" stroke="#ffffff" stroke-width="0.6"/>
<line x1="550.10" y1="122.40" x2="684.10" y2="122.40" stroke="#ffffff" stroke-width="0.6"/>
<line x1="550.10" y1="103.60" x2="684.10" y2="103.60" stroke="#ffffff" stroke-width="0.6"/>
<line x1="550.10" y1="84.80" x2="684.10" y2="84.80" stroke="#ffffff" stroke-width="0.6"/>
<line x1="550.10" y1="66.00" x2="684.10" y2="66.00" stroke="#ffffff" stroke-width="0.6"/>
<ellipse cx="556.19" cy="178.50" rx="1.6" ry="1.75" fill="#ff0000" stroke="#ffffff" stroke-width="0.3"/>
<ellipse cx="581.67" cy="160.80" rx="1.6" ry="1.75" fill="#ff0000" stroke="#ffffff" stroke-width="0.3"/>
<ellipse cx="582.27" cy="152.10" rx="1.6" ry="1.75" fill="#ff0000" stroke="#ffffff" stroke-width="0.3"/>
<ellipse cx="582.17" cy="80.80" rx="1.6" ry="1.75" fill="#ff0000" stroke="#ffffff" stroke-width="0.3"/>
<ellipse cx="596.90" cy="76.70" rx="1.6" ry="1.75" fill="#ff0000" stroke="#ffffff" stroke-width="0.3"/>
<ellipse cx="584.56" cy="115.90" rx="1.6" ry="1.75" fill="#ff0000" stroke="#ffffff" stroke-width="0.3"/>
<ellipse cx="591.02" cy="130.50" rx="1.6" ry="1.75" fill="#ff0000" stroke="#ffffff" stroke-width="0.3"/>
<ellipse cx="602.27" cy="126.10" rx="1.6" ry="1.75" fill="#ff0000" stroke="#ffffff" stroke-width="0.3"/>
<ellipse cx="610.23" cy="124.80" rx="1.6" ry="1.75" fill="#ff0000" stroke="#ffffff" stroke-width="0.3"/>
<ellipse cx="609.04" cy="130.90" rx="1.6" ry="1.75" fill="#ff0000" stroke="#ffffff" stroke-width="0.3"/>
<ellipse cx="611.43" cy="141.90" rx="1.6" ry="1.75" fill="#ff0000" stroke="#ffffff" stroke-width="0.3"/>
<ellipse cx="612.22" cy="143.10" rx="1.6" ry="1.75" fill="#ff0000" stroke="#ffffff" stroke-width="0.3"/>
<ellipse cx="617.10" cy="151.30" rx="1.6" ry="1.75" fill="#ff0000" stroke="#ffffff" stroke-width="0.3"/>
<ellipse cx="626.55" cy="157.40" rx="1.6" ry="1.75" fill="#ff0000" stroke="#ffffff" stroke-width="0.3"/>
<ellipse cx="676.42" cy="160.80" rx="1.6" ry="1.75" fill="#ff0000" stroke="#ffffff" stroke-width="0.3"/>
<ellipse cx="617.30" cy="125.70" rx="1.6" ry="1.75" fill="#ff0000" stroke="#ffffff" stroke-width="0.3"/>
<ellipse cx="633.42" cy="124.40" rx="1.6" ry="1.75" fill="#ff0000" stroke="#ffffff" stroke-width="0.3"/>
<ellipse cx="643.57" cy="123.20" rx="1.6" ry="1.75" fill="#ff0000" stroke="#ffffff" stroke-width="0.3"/>
<ellipse cx="618.89" cy="131.80" rx="1.6" ry="1.75" fill="#ff0000" stroke="#ffffff" stroke-width="0.3"/>
<ellipse cx="620.88" cy="134.00" rx="1.6" ry="1.75" fill="#ff0000" stroke="#ffffff" stroke-width="0.3"/>
<ellipse cx="626.16" cy="129.10" rx="1.6" ry="1.75" fill="#ff0000" stroke="#ffffff" stroke-width="0.3"/>
<ellipse cx="626.16" cy="131.30" rx="1.6" ry="1.75" fill="#ff0000" stroke="#ffffff" stroke-width="0.3"/>
<ellipse cx="617.70" cy="118.30" rx="1.6" ry="1.75" fill="#ff0000" stroke="#ffffff" stroke-width="0.3"/>
<ellipse cx="616.10" cy="119.80" rx="1.6" ry="1.75" fill="#ff0000" stroke="#ffffff" stroke-width="0.3"/>
<ellipse cx="622.77" cy="121.00" rx="1.6" ry="1.75" fill="#ff0000" stroke="#ffffff" stroke-width="0.3"/>
<ellipse cx="635.31" cy="111.70" rx="1.6" ry="1.75" fill="#ff0000" stroke="#ffffff" stroke-width="0.3"/>
<ellipse cx="651.04" cy="110.50" rx="1.6" ry="1.75" fill="#ff0000" stroke="#ffffff" stroke-width="0.3"/>
<ellipse cx="643.18" cy="109.10" rx="1.6" ry="1.75" fill="#ff0000" stroke="#ffffff" stroke-width="0.3"/>
<ellipse cx="649.64" cy="106.20" rx="1.6" ry="1.75" fill="#ff0000" stroke="#ffffff" stroke-width="0.3"/>
<ellipse cx="645.86" cy="103.40" rx="1.6" ry="1.75" fill="#ff0000" stroke="#ffffff" stroke-width="0.3"/>
<ellipse cx="640.79" cy="102.30" rx="1.6" ry="1.75" fill="#ff0000" stroke="#ffffff" stroke-width="0.3"/>
<ellipse cx="616.30" cy="105.20" rx="1.6" ry="1.75" fill="#ff0000" stroke="#ffffff" stroke-width="0.3"/>
<ellipse cx="665.07" cy="98.70" rx="1.6" ry="1.75" fill="#ff0000" stroke="#ffffff" stroke-width="0.3"/>
<ellipse cx="628.45" cy="95.00" rx="1.6" ry="1.75" fill="#ff0000" stroke="#ffffff" stroke-width="0.3"/>
<ellipse cx="618.49" cy="86.50" rx="1.6" ry="1.75" fill="#ff0000" stroke="#ffffff" stroke-width="0.3"/>
<ellipse cx="658.20" cy="68.80" rx="1.6" ry="1.75" fill="#ff0000" stroke="#ffffff" stroke-width="0.3"/>
<ellipse cx="678.01" cy="71.20" rx="1.6" ry="1.75" fill="#ff0000" stroke="#ffffff" stroke-width="0.3"/>
<ellipse cx="623.57" cy="67.00" rx="1.6" ry="1.75" fill="#ff0000" stroke="#ffffff" stroke-width="0.3"/>
<ellipse cx="619.29" cy="54.40" rx="1.6" ry="1.75" fill="#ff0000" stroke="#ffffff" stroke-width="0.3"/>
<line x1="550.10" y1="122.40" x2="684.10" y2="122.40" stroke="#000000" stroke-width="0.85" stroke-dasharray="2.45,1.35"/>
</g>
<text x="572.71" y="195.10" font-size="6.45" font-weight="normal" text-anchor="middle" textLength="3.34" lengthAdjust="spacingAndGlyphs" fill="#262626">4</text>
<text x="604.59" y="195.10" font-size="6.45" font-weight="normal" text-anchor="middle" textLength="3.34" lengthAdjust="spacingAndGlyphs" fill="#262626">5</text>
<text x="636.47" y="195.10" font-size="6.45" font-weight="normal" text-anchor="middle" textLength="3.34" lengthAdjust="spacingAndGlyphs" fill="#262626">6</text>
<text x="668.35" y="195.10" font-size="6.45" font-weight="normal" text-anchor="middle" textLength="3.34" lengthAdjust="spacingAndGlyphs" fill="#262626">7</text>
<text x="545.63" y="181.42" font-size="6.45" font-weight="normal" text-anchor="end" textLength="12.75" lengthAdjust="spacingAndGlyphs" fill="#262626">−0.6</text>
<text x="545.61" y="162.62" font-size="6.45" font-weight="normal" text-anchor="end" textLength="12.75" lengthAdjust="spacingAndGlyphs" fill="#262626">−0.4</text>
<text x="545.84" y="143.82" font-size="6.45" font-weight="normal" text-anchor="end" textLength="12.75" lengthAdjust="spacingAndGlyphs" fill="#262626">−0.2</text>
<text x="545.64" y="125.02" font-size="6.45" font-weight="normal" text-anchor="end" textLength="8.35" lengthAdjust="spacingAndGlyphs" fill="#262626">0.0</text>
<text x="545.83" y="106.22" font-size="6.45" font-weight="normal" text-anchor="end" textLength="8.35" lengthAdjust="spacingAndGlyphs" fill="#262626">0.2</text>
<text x="545.59" y="87.42" font-size="6.45" font-weight="normal" text-anchor="end" textLength="8.35" lengthAdjust="spacingAndGlyphs" fill="#262626">0.4</text>
<text x="545.62" y="68.62" font-size="6.45" font-weight="normal" text-anchor="end" textLength="8.35" lengthAdjust="spacingAndGlyphs" fill="#262626">0.6</text>
<text x="617.10" y="45.20" font-size="8.15" font-weight="bold" text-anchor="middle" textLength="130.24" lengthAdjust="spacingAndGlyphs" fill="#262626" stroke="#262626" stroke-width="0.3">Wear Rate: Residuals vs Predicted</text>
<text x="617.10" y="204.40" font-size="7.69" font-weight="bold" text-anchor="middle" textLength="72.16" lengthAdjust="spacingAndGlyphs" fill="#262626" stroke="#262626" stroke-width="0.3">Predicted Wear Rate</text>
<text transform="translate(529.90,117.20) rotate(-90)" x="0" y="0" font-size="6.60" font-weight="bold" text-anchor="middle" textLength="39.45" lengthAdjust="spacingAndGlyphs" fill="#262626" stroke="#262626" stroke-width="0.3">Residuals</text>
<rect x="550.10" y="223.00" width="134.00" height="135.60" fill="#eaeaf2"/>
<clipPath id="c13"><rect x="550.10" y="223.00" width="134.00" height="135.60"/></clipPath>
<g clip-path="url(#c13)">
<line x1="572.81" y1="223.00" x2="572.81" y2="358.60" stroke="#ffffff" stroke-width="0.6"/>
<line x1="604.66" y1="223.00" x2="604.66" y2="358.60" stroke="#ffffff" stroke-width="0.6"/>
<line x1="636.51" y1="223.00" x2="636.51" y2="358.60" stroke="#ffffff" stroke-width="0.6"/>
<line x1="668.36" y1="223.00" x2="668.36" y2="358.60" stroke="#ffffff" stroke-width="0.6"/>
<line x1="550.10" y1="355.10" x2="684.10" y2="355.10" stroke="#ffffff" stroke-width="0.6"/>
<line x1="550.10" y1="336.20" x2="684.10" y2="336.20" stroke="#ffffff" stroke-width="0.6"/>
<line x1="550.10" y1="317.30" x2="684.10" y2="317.30" stroke="#ffffff" stroke-width="0.6"/>
<line x1="550.10" y1="298.40" x2="684.10" y2="298.40" stroke="#ffffff" stroke-width="0.6"/>
<line x1="550.10" y1="279.50" x2="684.10" y2="279.50" stroke="#ffffff" stroke-width="0.6"/>
<line x1="550.10" y1="260.60" x2="684.10" y2="260.60" stroke="#ffffff" stroke-width="0.6"/>
<line x1="550.10" y1="241.70" x2="684.10" y2="241.70" stroke="#ffffff" stroke-width="0.6"/>
<line x1="550.10" y1="222.80" x2="684.10" y2="222.80" stroke="#ffffff" stroke-width="0.6"/>
<ellipse cx="556.19" cy="352.50" rx="1.6" ry="1.75" fill="#ff0000" stroke="#ffffff" stroke-width="0.3"/>
<ellipse cx="582.27" cy="337.00" rx="1.6" ry="1.75" fill="#ff0000" stroke="#ffffff" stroke-width="0.3"/>
<ellipse cx="582.47" cy="326.70" rx="1.6" ry="1.75" fill="#ff0000" stroke="#ffffff" stroke-width="0.3"/>
<ellipse cx="583.56" cy="259.00" rx="1.6" ry="1.75" fill="#ff0000" stroke="#ffffff" stroke-width="0.3"/>
<ellipse cx="598.09" cy="254.10" rx="1.6" ry="1.75" fill="#ff0000" stroke="#ffffff" stroke-width="0.3"/>
<ellipse cx="586.55" cy="295.80" rx="1.6" ry="1.75" fill="#ff0000" stroke="#ffffff" stroke-width="0.3"/>
<ellipse cx="591.42" cy="306.30" rx="1.6" ry="1.75" fill="#ff0000" stroke="#ffffff" stroke-width="0.3"/>
<ellipse cx="603.37" cy="304.30" rx="1.6" ry="1.75" fill="#ff0000" stroke="#ffffff" stroke-width="0.3"/>
<ellipse cx="610.23" cy="298.80" rx="1.6" ry="1.75" fill="#ff0000" stroke="#ffffff" stroke-width="0.3"/>
<ellipse cx="609.34" cy="305.90" rx="1.6" ry="1.75" fill="#ff0000" stroke="#ffffff" stroke-width="0.3"/>
<ellipse cx="611.23" cy="315.50" rx="1.6" ry="1.75" fill="#ff0000" stroke="#ffffff" stroke-width="0.3"/>
<ellipse cx="611.83" cy="317.30" rx="1.6" ry="1.75" fill="#ff0000" stroke="#ffffff" stroke-width="0.3"/>
<ellipse cx="617.70" cy="327.70" rx="1.6" ry="1.75" fill="#ff0000" stroke="#ffffff" stroke-width="0.3"/>
<ellipse cx="626.95" cy="333.80" rx="1.6" ry="1.75" fill="#ff0000" stroke="#ffffff" stroke-width="0.3"/>
<ellipse cx="676.42" cy="336.20" rx="1.6" ry="1.75" fill="#ff0000" stroke="#ffffff" stroke-width="0.3"/>
<ellipse cx="617.70" cy="301.30" rx="1.6" ry="1.75" fill="#ff0000" stroke="#ffffff" stroke-width="0.3"/>
<ellipse cx="634.52" cy="302.70" rx="1.6" ry="1.75" fill="#ff0000" stroke="#ffffff" stroke-width="0.3"/>
<ellipse cx="644.37" cy="300.20" rx="1.6" ry="1.75" fill="#ff0000" stroke="#ffffff" stroke-width="0.3"/>
<ellipse cx="619.29" cy="307.40" rx="1.6" ry="1.75" fill="#ff0000" stroke="#ffffff" stroke-width="0.3"/>
<ellipse cx="621.28" cy="309.80" rx="1.6" ry="1.75" fill="#ff0000" stroke="#ffffff" stroke-width="0.3"/>
<ellipse cx="626.75" cy="305.30" rx="1.6" ry="1.75" fill="#ff0000" stroke="#ffffff" stroke-width="0.3"/>
<ellipse cx="626.75" cy="307.40" rx="1.6" ry="1.75" fill="#ff0000" stroke="#ffffff" stroke-width="0.3"/>
<ellipse cx="617.50" cy="292.50" rx="1.6" ry="1.75" fill="#ff0000" stroke="#ffffff" stroke-width="0.3"/>
<ellipse cx="616.10" cy="295.80" rx="1.6" ry="1.75" fill="#ff0000" stroke="#ffffff" stroke-width="0.3"/>
<ellipse cx="622.57" cy="294.60" rx="1.6" ry="1.75" fill="#ff0000" stroke="#ffffff" stroke-width="0.3"/>
<ellipse cx="635.81" cy="287.80" rx="1.6" ry="1.75" fill="#ff0000" stroke="#ffffff" stroke-width="0.3"/>
<ellipse cx="651.64" cy="287.80" rx="1.6" ry="1.75" fill="#ff0000" stroke="#ffffff" stroke-width="0.3"/>
<ellipse cx="643.47" cy="284.70" rx="1.6" ry="1.75" fill="#ff0000" stroke="#ffffff" stroke-width="0.3"/>
<ellipse cx="650.24" cy="282.60" rx="1.6" ry="1.75" fill="#ff0000" stroke="#ffffff" stroke-width="0.3"/>
<ellipse cx="646.46" cy="279.40" rx="1.6" ry="1.75" fill="#ff0000" stroke="#ffffff" stroke-width="0.3"/>
<ellipse cx="641.18" cy="277.90" rx="1.6" ry="1.75" fill="#ff0000" stroke="#ffffff" stroke-width="0.3"/>
<ellipse cx="615.51" cy="277.50" rx="1.6" ry="1.75" fill="#ff0000" stroke="#ffffff" stroke-width="0.3"/>
<ellipse cx="665.47" cy="275.10" rx="1.6" ry="1.75" fill="#ff0000" stroke="#ffffff" stroke-width="0.3"/>
<ellipse cx="628.64" cy="270.40" rx="1.6" ry="1.75" fill="#ff0000" stroke="#ffffff" stroke-width="0.3"/>
<ellipse cx="619.09" cy="263.30" rx="1.6" ry="1.75" fill="#ff0000" stroke="#ffffff" stroke-width="0.3"/>
<ellipse cx="658.40" cy="244.80" rx="1.6" ry="1.75" fill="#ff0000" stroke="#ffffff" stroke-width="0.3"/>
<ellipse cx="678.01" cy="246.20" rx="1.6" ry="1.75" fill="#ff0000" stroke="#ffffff" stroke-width="0.3"/>
<ellipse cx="623.57" cy="242.00" rx="1.6" ry="1.75" fill="#ff0000" stroke="#ffffff" stroke-width="0.3"/>
<ellipse cx="619.29" cy="228.70" rx="1.6" ry="1.75" fill="#ff0000" stroke="#ffffff" stroke-width="0.3"/>
<line x1="550.10" y1="298.40" x2="684.10" y2="298.40" stroke="#000000" stroke-width="0.85" stroke-dasharray="2.45,1.35"/>
</g>
<text x="572.81" y="369.20" font-size="6.45" font-weight="normal" text-anchor="middle" textLength="8.35" lengthAdjust="spacingAndGlyphs" fill="#262626">0.4</text>
<text x="604.66" y="369.20" font-size="6.45" font-weight="normal" text-anchor="middle" textLength="8.35" lengthAdjust="spacingAndGlyphs" fill="#262626">0.5</text>
<text x="636.51" y="369.20" font-size="6.45" font-weight="normal" text-anchor="middle" textLength="8.35" lengthAdjust="spacingAndGlyphs" fill="#262626">0.6</text>
<text x="668.36" y="369.20" font-size="6.45" font-weight="normal" text-anchor="middle" textLength="8.35" lengthAdjust="spacingAndGlyphs" fill="#262626">0.7</text>
<text x="545.61" y="357.72" font-size="6.45" font-weight="normal" text-anchor="end" textLength="16.09" lengthAdjust="spacingAndGlyphs" fill="#262626">−0.06</text>
<text x="545.59" y="338.82" font-size="6.45" font-weight="normal" text-anchor="end" textLength="16.09" lengthAdjust="spacingAndGlyphs" fill="#262626">−0.04</text>
<text x="545.82" y="319.92" font-size="6.45" font-weight="normal" text-anchor="end" textLength="16.09" lengthAdjust="spacingAndGlyphs" fill="#262626">−0.02</text>
<text x="545.65" y="301.02" font-size="6.45" font-weight="normal" text-anchor="end" textLength="11.69" lengthAdjust="spacingAndGlyphs" fill="#262626">0.00</text>
<text x="545.83" y="282.12" font-size="6.45" font-weight="normal" text-anchor="end" textLength="11.69" lengthAdjust="spacingAndGlyphs" fill="#262626">0.02</text>
<text x="545.60" y="263.22" font-size="6.45" font-weight="normal" text-anchor="end" textLength="11.69" lengthAdjust="spacingAndGlyphs" fill="#262626">0.04</text>
<text x="545.62" y="244.32" font-size="6.45" font-weight="normal" text-anchor="end" textLength="11.69" lengthAdjust="spacingAndGlyphs" fill="#262626">0.06</text>
<text x="545.65" y="225.42" font-size="6.45" font-weight="normal" text-anchor="end" textLength="11.69" lengthAdjust="spacingAndGlyphs" fill="#262626">0.08</text>
<text x="617.10" y="219.30" font-size="8.15" font-weight="bold" text-anchor="middle" textLength="105.74" lengthAdjust="spacingAndGlyphs" fill="#262626" stroke="#262626" stroke-width="0.3">COF: Residuals vs Predicted</text>
<text x="617.10" y="378.50" font-size="7.69" font-weight="bold" text-anchor="middle" textLength="49.87" lengthAdjust="spacingAndGlyphs" fill="#262626" stroke="#262626" stroke-width="0.3">Predicted COF</text>
<text transform="translate(526.20,291.30) rotate(-90)" x="0" y="0" font-size="6.60" font-weight="bold" text-anchor="middle" textLength="39.45" lengthAdjust="spacingAndGlyphs" fill="#262626" stroke="#262626" stroke-width="0.3">Residuals</text>
</svg>
</body></html>
